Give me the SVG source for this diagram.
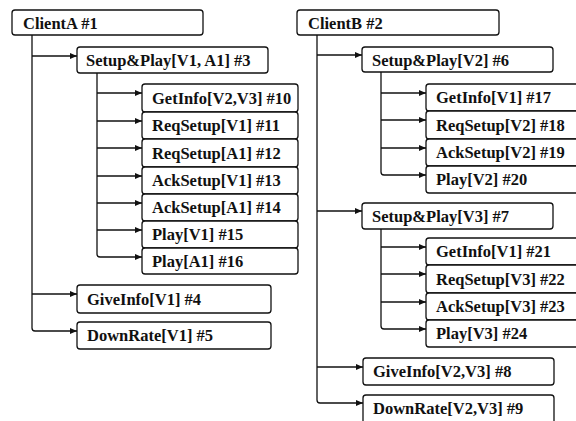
<svg xmlns="http://www.w3.org/2000/svg" width="576" height="421" viewBox="0 0 576 421">
<style>
  .box { fill: #fff; stroke: #111; stroke-width: 1.3; }
  .lbl { font-family: 'Liberation Serif', 'DejaVu Serif', serif; font-weight: 700; font-size: 16.5px; fill: #111; }
  .con { fill: none; stroke: #111; stroke-width: 1.3; }
</style>
<defs>
  <marker id="arr" markerUnits="userSpaceOnUse" markerWidth="8" markerHeight="6" refX="7" refY="3" orient="auto">
    <path d="M0,0 L7,3 L0,6 z" fill="#111"/>
  </marker>
</defs>
<rect width="576" height="421" fill="#fff"/>

<g id="connectors">
  <path class="con" d="M32,35 V328 Q32,331 35,331 H77" marker-end="url(#arr)"/>
  <path class="con" d="M32,56 H77" marker-end="url(#arr)"/>
  <path class="con" d="M32,294 H77" marker-end="url(#arr)"/>
  <path class="con" d="M97,73 V254 Q97,257 100,257 H142" marker-end="url(#arr)"/>
  <path class="con" d="M97,93 H142" marker-end="url(#arr)"/>
  <path class="con" d="M97,121 H142" marker-end="url(#arr)"/>
  <path class="con" d="M97,148 H142" marker-end="url(#arr)"/>
  <path class="con" d="M97,176 H142" marker-end="url(#arr)"/>
  <path class="con" d="M97,203 H142" marker-end="url(#arr)"/>
  <path class="con" d="M97,230 H142" marker-end="url(#arr)"/>
  <path class="con" d="M317,35 V400 Q317,403 320,403 H363" marker-end="url(#arr)"/>
  <path class="con" d="M317,55 H362" marker-end="url(#arr)"/>
  <path class="con" d="M317,211 H362" marker-end="url(#arr)"/>
  <path class="con" d="M317,367 H363" marker-end="url(#arr)"/>
  <path class="con" d="M381,72 V172 Q381,175 384,175 H426" marker-end="url(#arr)"/>
  <path class="con" d="M381,93 H426" marker-end="url(#arr)"/>
  <path class="con" d="M381,120 H426" marker-end="url(#arr)"/>
  <path class="con" d="M381,148 H426" marker-end="url(#arr)"/>
  <path class="con" d="M381,229 V326 Q381,329 384,329 H426" marker-end="url(#arr)"/>
  <path class="con" d="M381,247 H426" marker-end="url(#arr)"/>
  <path class="con" d="M381,274 H426" marker-end="url(#arr)"/>
  <path class="con" d="M381,302 H426" marker-end="url(#arr)"/>
</g>

<g id="n1"><rect class="box" x="12" y="10" width="191" height="25" rx="3"/><text class="lbl" x="23" y="29">ClientA #1</text></g>
<g id="n3"><rect class="box" x="77" y="47" width="191" height="26" rx="3"/><text class="lbl" x="86" y="66">Setup&amp;Play[V1, A1] #3</text></g>
<g id="n10"><rect class="box" x="142" y="84" width="156" height="28" rx="3"/><text class="lbl" x="152" y="104">GetInfo[V2,V3] #10</text></g>
<g id="n11"><rect class="box" x="142" y="112" width="156" height="27" rx="3"/><text class="lbl" x="152" y="131">ReqSetup[V1] #11</text></g>
<g id="n12"><rect class="box" x="142" y="139" width="156" height="28" rx="3"/><text class="lbl" x="152" y="159">ReqSetup[A1] #12</text></g>
<g id="n13"><rect class="box" x="142" y="167" width="156" height="27" rx="3"/><text class="lbl" x="152" y="186">AckSetup[V1] #13</text></g>
<g id="n14"><rect class="box" x="142" y="194" width="156" height="27" rx="3"/><text class="lbl" x="152" y="213">AckSetup[A1] #14</text></g>
<g id="n15"><rect class="box" x="142" y="221" width="156" height="27" rx="3"/><text class="lbl" x="152" y="240">Play[V1] #15</text></g>
<g id="n16"><rect class="box" x="142" y="248" width="156" height="26" rx="3"/><text class="lbl" x="152" y="267">Play[A1] #16</text></g>
<g id="n4"><rect class="box" x="77" y="285" width="194" height="28" rx="3"/><text class="lbl" x="87" y="305">GiveInfo[V1] #4</text></g>
<g id="n5"><rect class="box" x="77" y="322" width="194" height="27" rx="3"/><text class="lbl" x="87" y="341">DownRate[V1] #5</text></g>

<g id="n2"><rect class="box" x="297" y="10" width="202" height="25" rx="3"/><text class="lbl" x="308" y="29">ClientB #2</text></g>
<g id="n6"><rect class="box" x="362" y="47" width="191" height="25" rx="3"/><text class="lbl" x="372" y="66">Setup&amp;Play[V2] #6</text></g>
<g id="n17"><rect class="box" x="426" y="84" width="170" height="27" rx="3"/><text class="lbl" x="436" y="103">GetInfo[V1] #17</text></g>
<g id="n18"><rect class="box" x="426" y="111" width="170" height="28" rx="3"/><text class="lbl" x="436" y="131">ReqSetup[V2] #18</text></g>
<g id="n19"><rect class="box" x="426" y="139" width="170" height="27" rx="3"/><text class="lbl" x="436" y="158">AckSetup[V2] #19</text></g>
<g id="n20"><rect class="box" x="426" y="166" width="170" height="27" rx="3"/><text class="lbl" x="436" y="185">Play[V2] #20</text></g>
<g id="n7"><rect class="box" x="362" y="203" width="191" height="26" rx="3"/><text class="lbl" x="372" y="222">Setup&amp;Play[V3] #7</text></g>
<g id="n21"><rect class="box" x="426" y="238" width="170" height="27" rx="3"/><text class="lbl" x="436" y="257">GetInfo[V1] #21</text></g>
<g id="n22"><rect class="box" x="426" y="265" width="170" height="28" rx="3"/><text class="lbl" x="436" y="285">ReqSetup[V3] #22</text></g>
<g id="n23"><rect class="box" x="426" y="293" width="170" height="27" rx="3"/><text class="lbl" x="436" y="312">AckSetup[V3] #23</text></g>
<g id="n24"><rect class="box" x="426" y="320" width="170" height="27" rx="3"/><text class="lbl" x="436" y="339">Play[V3] #24</text></g>
<g id="n8"><rect class="box" x="363" y="358" width="191" height="27" rx="3"/><text class="lbl" x="373" y="377">GiveInfo[V2,V3] #8</text></g>
<g id="n9"><rect class="box" x="363" y="395" width="191" height="40" rx="3"/><text class="lbl" x="373" y="414">DownRate[V2,V3] #9</text></g>
</svg>
